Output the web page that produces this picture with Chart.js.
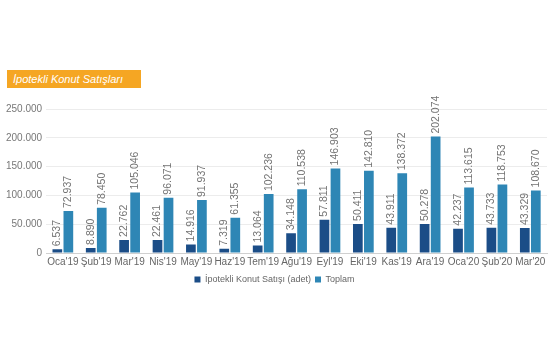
<!DOCTYPE html>
<html><head><meta charset="utf-8">
<script src="https://cdn.jsdelivr.net/npm/chart.js@4/dist/chart.umd.min.js"></script>
<style>
html,body{margin:0;padding:0;background:#fff;}
#wrap{position:relative;width:555px;height:355px;}
#title{position:absolute;left:7px;top:70px;width:134px;height:18px;background:#F5A623;color:#fff;font:italic 11px "Liberation Sans",Arial,sans-serif;line-height:18px;padding-left:6px;box-sizing:border-box;}
canvas{position:absolute;left:0;top:0;}
</style></head><body>
<div id="wrap"><canvas id="c" width="555" height="355"></canvas><div id="title">İpotekli Konut Satışları</div></div>
<script>
const categories = ["Oca'19","Şub'19","Mar'19","Nis'19","May'19","Haz'19","Tem'19","Ağu'19","Eyl'19","Eki'19","Kas'19","Ara'19","Oca'20","Şub'20","Mar'20"];
const ipotekli = [6537,8890,22762,22461,14916,7319,13064,34148,57811,50411,43911,50278,42237,43733,43329];
const toplam = [72937,78450,105046,96071,91937,61355,102236,110538,146903,142810,138372,202074,113615,118753,108670];
const yTicks = [0,50000,100000,150000,200000,250000];

const fmt = v => v.toString().replace(/\B(?=(\d{3})+(?!\d))/g, '.');

const labelPlugin = {
  id: 'barLabels',
  afterDatasetsDraw(chart) {
    const ctx = chart.ctx;
    ctx.save();
    ctx.font = '10.5px "Liberation Sans", Arial, sans-serif';
    ctx.fillStyle = '#737373';
    ctx.textAlign = 'left';
    ctx.textBaseline = 'middle';
    chart.data.datasets.forEach((ds, di) => {
      const meta = chart.getDatasetMeta(di);
      meta.data.forEach((bar, i) => {
        ctx.save();
        ctx.translate(bar.x, bar.y - 3);
        ctx.rotate(-Math.PI / 2);
        ctx.fillText(fmt(ds.data[i]), 0, 0);
        ctx.restore();
      });
    });
    ctx.restore();
  }
};

new Chart(document.getElementById('c'), {
  type: 'bar',
  data: {
    labels: categories,
    datasets: [
      { label: 'İpotekli Konut Satışı (adet)', data: ipotekli, backgroundColor: '#1B4D87' },
      { label: 'Toplam', data: toplam, backgroundColor: '#2E86B5' }
    ]
  },
  options: {
    responsive: false,
    animation: false,
    devicePixelRatio: 1,
    layout: { padding: { top: 109, left: 2, right: 8, bottom: 61 } },
    plugins: {
      legend: {
        position: 'bottom',
        labels: {
          boxWidth: 6, boxHeight: 6, padding: 4,
          color: '#666', font: { size: 9, family: '"Liberation Sans", Arial, sans-serif' }
        }
      },
      tooltip: { enabled: false }
    },
    datasets: { bar: { categoryPercentage: 0.66, barPercentage: 0.88 } },
    scales: {
      x: {
        grid: { display: false, drawTicks: false },
        border: { color: '#d0d0d0' },
        ticks: { color: '#666', font: { size: 10, family: '"Liberation Sans", Arial, sans-serif' }, maxRotation: 0, autoSkip: false, padding: 3 }
      },
      y: {
        min: 0, max: 250000,
        afterBuildTicks: axis => { axis.ticks = yTicks.map(v => ({ value: v })); },
        grid: { color: '#ececec', drawTicks: false },
        border: { display: false },
        ticks: { color: '#777', font: { size: 10, family: '"Liberation Sans", Arial, sans-serif' }, padding: 4, callback: v => fmt(v) }
      }
    }
  },
  plugins: [labelPlugin]
});
</script>
</body></html>
